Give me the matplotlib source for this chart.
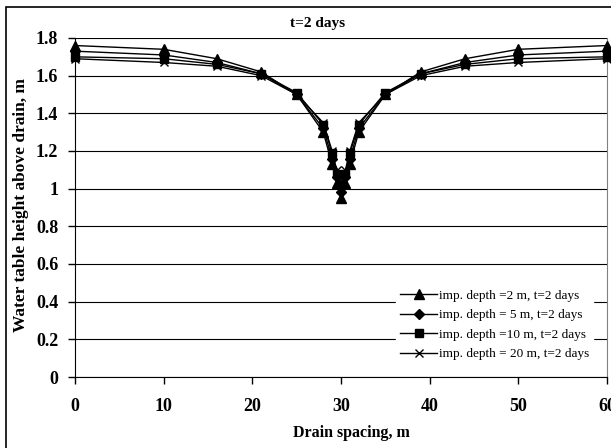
import matplotlib
matplotlib.use("Agg")
import matplotlib.pyplot as plt
from matplotlib.patches import Rectangle

x = [0, 10, 16, 21, 25, 28, 29, 29.5, 30, 30.5, 31, 32, 35, 39, 44, 50, 60]
d2 = [1.76, 1.74, 1.69, 1.62, 1.50, 1.30, 1.13, 1.03, 0.95, 1.03, 1.13, 1.30, 1.50, 1.62, 1.69, 1.74, 1.76]
d5 = [1.73, 1.71, 1.67, 1.61, 1.50, 1.32, 1.16, 1.06, 0.98, 1.06, 1.16, 1.32, 1.50, 1.61, 1.67, 1.71, 1.73]
d10 = [1.70, 1.69, 1.66, 1.61, 1.51, 1.34, 1.19, 1.08, 1.02, 1.08, 1.19, 1.34, 1.51, 1.61, 1.66, 1.69, 1.70]
d20 = [1.69, 1.67, 1.65, 1.60, 1.50, 1.35, 1.20, 1.10, 1.03, 1.10, 1.20, 1.35, 1.50, 1.60, 1.65, 1.67, 1.69]
labels = ["imp. depth =2 m, t=2 days", "imp. depth = 5 m, t=2 days",
          "imp. depth =10 m, t=2 days", "imp. depth = 20 m, t=2 days"]
xticks = [0, 10, 20, 30, 40, 50, 60]
yticks = [0, 0.2, 0.4, 0.6, 0.8, 1.0, 1.2, 1.4, 1.6, 1.8]
ytick_labels = ["0", "0.2", "0.4", "0.6", "0.8", "1", "1.2", "1.4", "1.6", "1.8"]

plt.rcParams['font.family'] = ['Liberation Serif', 'DejaVu Serif']

fig = plt.figure(figsize=(6.11, 4.48), dpi=100)
fig.patches.append(Rectangle((6/611, -0.1), 1.2, 1 - 7/448 + 0.1, transform=fig.transFigure,
                             fill=False, edgecolor='black', lw=1.2))
ax = fig.add_axes([75/611, 1 - 377/448, 532/611, 339/448])

series = [(d2, '^', 6.5), (d5, 'D', 5), (d10, 's', 5.5), (d20, 'x', 6)]
for (vals, m, ms), lab in zip(series, labels):
    ax.plot(x, vals, color='black', lw=1, marker=m, markersize=ms, markeredgewidth=1,
            label=lab, clip_on=False, zorder=3)

ax.set_xlim(0, 60)
ax.set_ylim(0, 1.8)
ax.set_xticks(xticks)
ax.set_yticks(yticks)
ax.set_yticklabels(ytick_labels)
ax.yaxis.grid(True, color='black', lw=0.8)
ax.set_axisbelow(True)
ax.spines['top'].set_visible(False)
ax.spines['right'].set_color('#808080')
ax.spines['right'].set_linewidth(0.8)
ax.tick_params(axis='both', direction='out', length=5, width=1, labelsize=13)
for t in ax.get_xticklabels() + ax.get_yticklabels():
    t.set_fontweight('bold')
ax.tick_params(axis='x', pad=10)
ax.tick_params(axis='y', pad=7)

fig.text(351/611, 1 - 433/448, "Drain spacing, m", ha='center', va='center',
         fontsize=11.5, fontweight='bold')
fig.text(21/611, 1 - 205/448, "Water table height above drain, m", ha='center', va='center',
         rotation=90, fontsize=12.5, fontweight='bold')
fig.text(318/611, 1 - 24/448, "t=2 days", ha='center', va='center',
         fontsize=11, fontweight='bold')

leg = ax.legend(loc='lower right', bbox_to_anchor=(600/611, 1 - 371/448),
                bbox_transform=fig.transFigure, frameon=True, fontsize=9.5,
                handlelength=2.8, handletextpad=0.15, labelspacing=0.55,
                borderpad=0.3, fancybox=False)
leg.get_frame().set_edgecolor('white')
leg.get_frame().set_alpha(1)

fig.savefig("out.png", dpi=100)
